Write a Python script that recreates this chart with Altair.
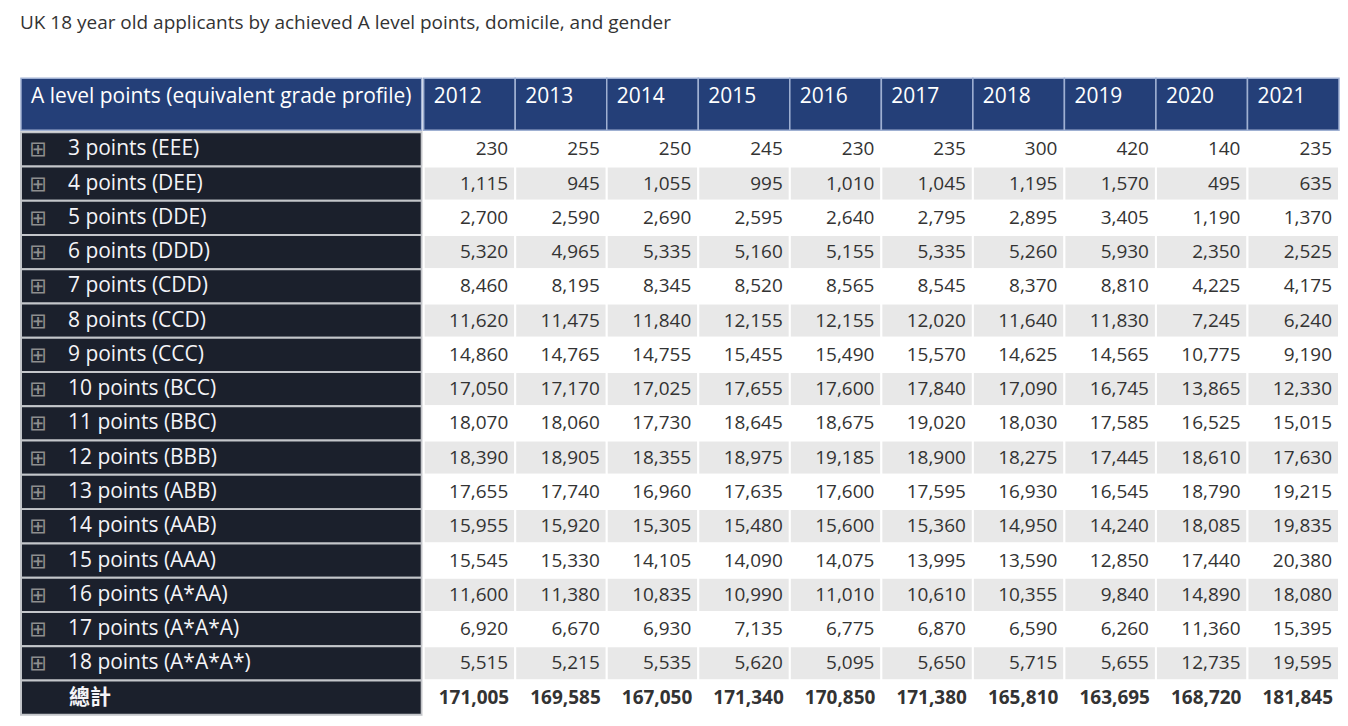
import altair as alt
import pandas as pd

title_text = "UK 18 year old applicants  by achieved A level points, domicile, and gender"
header_label = "A level points (equivalent grade profile)"
row_labels = [
    "3 points (EEE)", "4 points (DEE)", "5 points (DDE)", "6 points (DDD)",
    "7 points (CDD)", "8 points (CCD)", "9 points (CCC)", "10 points (BCC)",
    "11 points (BBC)", "12 points (BBB)", "13 points (ABB)", "14 points (AAB)",
    "15 points (AAA)", "16 points (A*AA)", "17 points (A*A*A)", "18 points (A*A*A*)",
]
total_label = "總計"
years = ["2012", "2013", "2014", "2015", "2016", "2017", "2018", "2019", "2020", "2021"]

v2012 = [230, 1115, 2700, 5320, 8460, 11620, 14860, 17050, 18070, 18390, 17655, 15955, 15545, 11600, 6920, 5515]
v2013 = [255, 945, 2590, 4965, 8195, 11475, 14765, 17170, 18060, 18905, 17740, 15920, 15330, 11380, 6670, 5215]
v2014 = [250, 1055, 2690, 5335, 8345, 11840, 14755, 17025, 17730, 18355, 16960, 15305, 14105, 10835, 6930, 5535]
v2015 = [245, 995, 2595, 5160, 8520, 12155, 15455, 17655, 18645, 18975, 17635, 15480, 14090, 10990, 7135, 5620]
v2016 = [230, 1010, 2640, 5155, 8565, 12155, 15490, 17600, 18675, 19185, 17600, 15600, 14075, 11010, 6775, 5095]
v2017 = [235, 1045, 2795, 5335, 8545, 12020, 15570, 17840, 19020, 18900, 17595, 15360, 13995, 10610, 6870, 5650]
v2018 = [300, 1195, 2895, 5260, 8370, 11640, 14625, 17090, 18030, 18275, 16930, 14950, 13590, 10355, 6590, 5715]
v2019 = [420, 1570, 3405, 5930, 8810, 11830, 14565, 16745, 17585, 17445, 16545, 14240, 12850, 9840, 6260, 5655]
v2020 = [140, 495, 1190, 2350, 4225, 7245, 10775, 13865, 16525, 18610, 18790, 18085, 17440, 14890, 11360, 12735]
v2021 = [235, 635, 1370, 2525, 4175, 6240, 9190, 12330, 15015, 17630, 19215, 19835, 20380, 18080, 15395, 19595]
totals = [171005, 169585, 167050, 171340, 170850, 171380, 165810, 163695, 168720, 181845]

series = [v2012, v2013, v2014, v2015, v2016, v2017, v2018, v2019, v2020, v2021]
all_rows = row_labels + [total_label]

# ---- tables built from the arrays ----
body = []
for yi, yr in enumerate(years):
    for ri, lab in enumerate(row_labels):
        body.append({"row": lab, "year": yr, "txt": f"{series[yi][ri]:,}",
                     "shade": "g" if ri % 2 == 1 else "w", "bold": 0})
    body.append({"row": total_label, "year": yr, "txt": f"{totals[yi]:,}",
                 "shade": "w", "bold": 1})
body_df = pd.DataFrame(body)

left_df = pd.DataFrame({"row": all_rows, "col": ["c"] * len(all_rows),
                        "icon": ["\u229e"] * len(row_labels) + [""],
                        "bold": [0] * len(row_labels) + [1]})
head_df = pd.DataFrame({"year": years})
head_left_df = pd.DataFrame({"col": ["c"], "txt": [header_label]})

HEADER_BG = "#243f78"
HEADER_LINE = "#9fb0d2"
LEFT_BG = "#1b202c"
LEFT_LINE = "#c4c6ca"
TXT = "#333333"
FONT = "Open Sans"

W_LEFT = 401
W_RIGHT = 916
H_HEAD = 52
H_BODY = 583

band = alt.Scale(type="band", paddingInner=0, paddingOuter=0)
X_year = alt.X("year:N", sort=years, axis=None, scale=band)
X_year0 = alt.X("year:N", sort=years, axis=None, scale=band, bandPosition=0)
X_year1 = alt.X("year:N", sort=years, axis=None, scale=band, bandPosition=1)
Y_row = alt.Y("row:N", sort=all_rows, axis=None, scale=band)
X_col = alt.X("col:N", axis=None, scale=band)
X_col0 = alt.X("col:N", axis=None, scale=band, bandPosition=0)

# ---- header, left ----
hl_rect = alt.Chart(head_left_df).mark_rect(fill=HEADER_BG, stroke=HEADER_LINE, strokeWidth=1.5).encode(x=X_col)
hl_text = alt.Chart(head_left_df).mark_text(align="left", baseline="middle", dx=10, dy=-7,
                                             font=FONT, fontSize=21, color="#ffffff").encode(
    x=X_col0, text="txt:N")
head_left = alt.layer(hl_rect, hl_text).properties(width=W_LEFT, height=H_HEAD)

# ---- header, right ----
hr_rect = alt.Chart(head_df).mark_rect(fill=HEADER_BG, stroke=HEADER_LINE, strokeWidth=1.5).encode(x=X_year)
hr_text = alt.Chart(head_df).mark_text(align="left", baseline="middle", dx=10, dy=-7,
                                        font=FONT, fontSize=21, color="#ffffff").encode(
    x=X_year0, text="year:N")
head_right = alt.layer(hr_rect, hr_text).properties(width=W_RIGHT, height=H_HEAD)

# ---- body, left ----
bl_rect = alt.Chart(left_df).mark_rect(fill=LEFT_BG, stroke=LEFT_LINE, strokeWidth=2).encode(x=X_col, y=Y_row)
bl_icon = alt.Chart(left_df).mark_text(align="center", baseline="middle", dx=17, dy=1,
                                        font="DejaVu Sans", fontSize=21, color="#8e8e8e").encode(
    x=X_col0, y=Y_row, text="icon:N")
bl_text = alt.Chart(left_df).transform_filter("datum.bold == 0").mark_text(
    align="left", baseline="middle", dx=47, font=FONT, fontSize=21, color="#f4f4f8").encode(
    x=X_col0, y=Y_row, text="row:N")
bl_total = alt.Chart(left_df).transform_filter("datum.bold == 1").mark_text(
    align="left", baseline="middle", dx=48, font="Noto Sans CJK TC", fontSize=21,
    fontWeight="bold", color="#f4f4f8").encode(x=X_col0, y=Y_row, text="row:N")
body_left = alt.layer(bl_rect, bl_icon, bl_text, bl_total).properties(width=W_LEFT, height=H_BODY)

# ---- body, right ----
br_rect = alt.Chart(body_df).mark_rect(stroke="#ffffff", strokeWidth=2).encode(
    x=X_year, y=Y_row,
    color=alt.Color("shade:N", scale=alt.Scale(domain=["w", "g"], range=["#ffffff", "#e8e8e8"]), legend=None))
br_text = alt.Chart(body_df).transform_filter("datum.bold == 0").mark_text(
    align="right", baseline="middle", dx=-7, font=FONT, fontSize=19, color=TXT).encode(
    x=X_year1, y=Y_row, text="txt:N")
br_bold = alt.Chart(body_df).transform_filter("datum.bold == 1").mark_text(
    align="right", baseline="middle", dx=-6, font=FONT, fontSize=19, fontWeight="bold", color=TXT).encode(
    x=X_year1, y=Y_row, text="txt:N")
body_right = alt.layer(br_rect, br_text, br_bold).properties(width=W_RIGHT, height=H_BODY)

chart = alt.vconcat(
    alt.hconcat(head_left, head_right, spacing=0),
    alt.hconcat(body_left, body_right, spacing=0),
    spacing=0,
).properties(
    title=alt.TitleParams(title_text, anchor="start", font=FONT, fontSize=19, fontWeight="normal",
                          color="#333333", offset=45),
    padding={"left": 12, "top": 5, "right": 0, "bottom": 0},
).configure_view(strokeWidth=0).configure_concat(spacing=0)

chart.save("out.html", embed_options={"renderer": "svg", "actions": False})
